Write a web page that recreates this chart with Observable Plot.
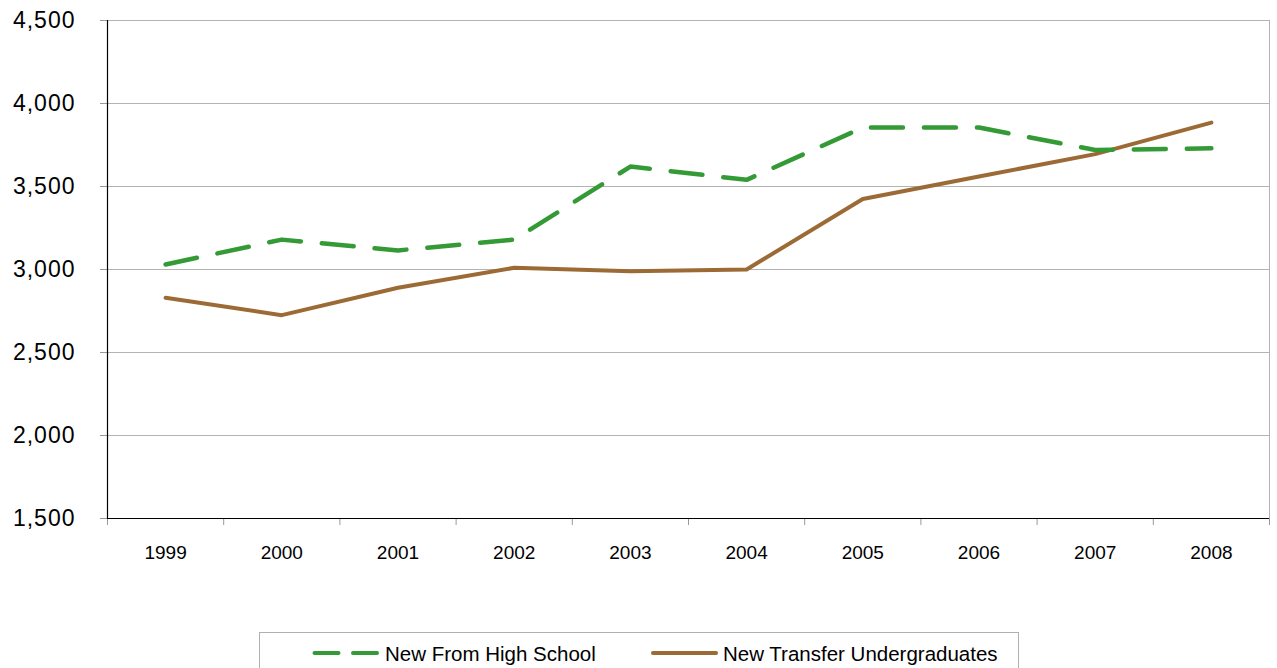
<!DOCTYPE html>
<html>
<head>
<meta charset="utf-8">
<script src="https://cdn.jsdelivr.net/npm/d3@7"></script>
<script src="https://cdn.jsdelivr.net/npm/@observablehq/plot@0.6"></script>
<style>
  html, body { margin: 0; padding: 0; background: #fff; }
  body { font-family: "Liberation Sans", Arial, sans-serif; width: 1277px; height: 668px; overflow: hidden; position: relative; }
  #chart svg { display: block; font-family: "Liberation Sans", Arial, sans-serif; }
  #chart g[aria-label="y-axis tick label"] text { letter-spacing: 1px; }
  .legend { position: absolute; left: 259px; top: 632px; width: 760px; height: 60px; border: 1px solid #b0b0b0; box-sizing: border-box; background: #fff; }
  .legend .sw { position: absolute; top: 15px; }
  .legend .lab { position: absolute; top: 9px; font-size: 20.5px; line-height: 24px; color: #000; white-space: nowrap; }
</style>
</head>
<body>
<div id="chart"></div>
<div class="legend">
  <svg class="sw" style="left:50px" width="72" height="10"><line x1="4.5" y1="5" x2="68" y2="5" stroke="#339a35" stroke-width="4" stroke-linecap="round" stroke-dasharray="24,14.5"></line></svg>
  <span class="lab" style="left:125px">New From High School</span>
  <svg class="sw" style="left:389px" width="72" height="10"><line x1="4" y1="5" x2="67" y2="5" stroke="#9c6a35" stroke-width="4" stroke-linecap="round"></line></svg>
  <span class="lab" style="left:463px">New Transfer Undergraduates</span>
</div>
<script>
// Fall headcounts of new undergraduate students, by entry type
const years = [1999, 2000, 2001, 2002, 2003, 2004, 2005, 2006, 2007, 2008];
const newFromHighSchool = [3030, 3180, 3115, 3180, 3620, 3540, 3855, 3855, 3720, 3730];
const newTransfer = [2830, 2725, 2890, 3010, 2990, 3000, 3425, 3560, 3695, 3885];
const yTicks = [1500, 2000, 2500, 3000, 3500, 4000, 4500];

const green = "#339a35";
const brown = "#9c6a35";
const gray = "#b3b3b3";

const hsRows = years.map((year, i) => ({year, value: newFromHighSchool[i]}));
const trRows = years.map((year, i) => ({year, value: newTransfer[i]}));

// Category slots: each year sits in the middle of a unit-wide slot
const xDomain = [years[0] - 0.5, years[years.length - 1] + 0.5];
const slotEdges = [...years.map(y => y - 0.5), years[years.length - 1] + 0.5];
const yDomain = [yTicks[0], yTicks[yTicks.length - 1]];
const thousands = d3.format(",");

const chart = Plot.plot({
  width: 1277,
  height: 620,
  marginLeft: 107,
  marginRight: 8,
  marginTop: 20,
  marginBottom: 102,
  x: {type: "linear", domain: xDomain},
  y: {domain: yDomain},
  marks: [
    Plot.gridY(yTicks.slice(1), {stroke: gray, strokeOpacity: 1, strokeWidth: 1}),
    Plot.ruleX([xDomain[1]], {stroke: gray, strokeWidth: 1}),
    Plot.axisY(yTicks, {
      tickFormat: thousands,
      tickSize: 7,
      tickPadding: 25,
      fontSize: 23,
      stroke: "#999",
      fill: "#000",
      label: null
    }),
    Plot.axisX(slotEdges, {
      tickSize: 7,
      tickFormat: () => "",
      stroke: "#999",
      label: null
    }),
    Plot.axisX(years, {
      tickSize: 0,
      tickPadding: 27,
      tickFormat: d => String(d),
      fontSize: 19,
      fill: "#000",
      label: null
    }),
    Plot.ruleX([xDomain[0]], {stroke: "#000", strokeWidth: 1.2}),
    Plot.ruleY([yDomain[0]], {stroke: "#000", strokeWidth: 1.2}),
    Plot.line(trRows, {
      x: "year", y: "value",
      stroke: brown, strokeWidth: 4,
      strokeLinejoin: "round", strokeLinecap: "round"
    }),
    Plot.line(hsRows, {
      x: "year", y: "value",
      stroke: green, strokeWidth: 4.5,
      strokeDasharray: "32,21",
      strokeLinejoin: "round", strokeLinecap: "round"
    })
  ]
});
document.getElementById("chart").append(chart);
</script>
</body>
</html>
